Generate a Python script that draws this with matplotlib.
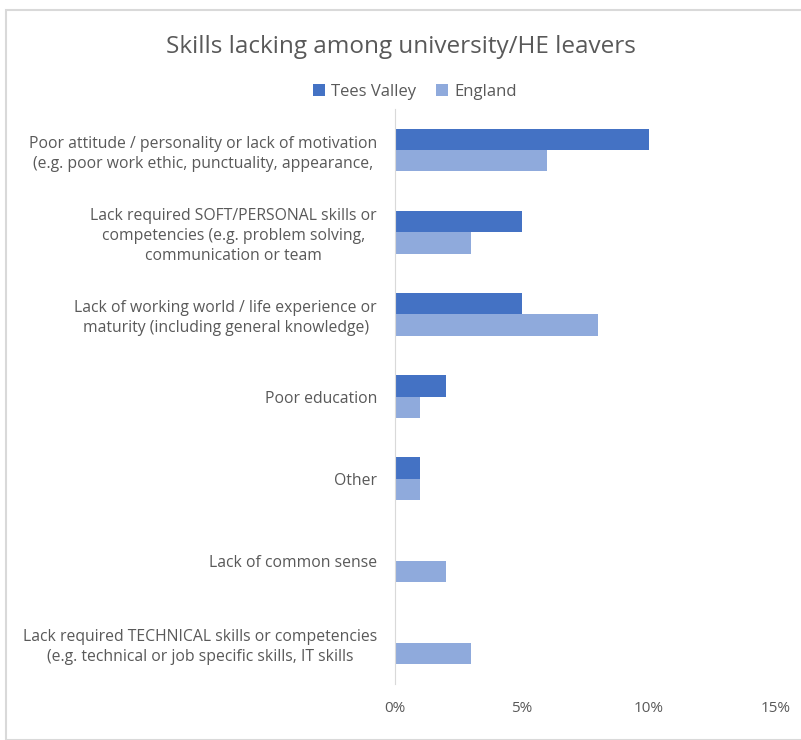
import matplotlib.pyplot as plt
import numpy as np
from matplotlib.patches import Rectangle

categories = [
    "Poor attitude / personality or lack of motivation\n(e.g. poor work ethic, punctuality, appearance,",
    "Lack required SOFT/PERSONAL skills or\ncompetencies (e.g. problem solving,\ncommunication or team",
    "Lack of working world / life experience or\nmaturity (including general knowledge)",
    "Poor education",
    "Other",
    "Lack of common sense",
    "Lack required TECHNICAL skills or competencies\n(e.g. technical or job specific skills, IT skills",
]
tees_valley = [10, 5, 5, 2, 1, 0, 0]
england = [6, 3, 8, 1, 1, 2, 3]
xticks = [0, 5, 10, 15]

plt.rcParams['font.family'] = ['Open Sans', 'DejaVu Sans']
grey = '#595959'

fig = plt.figure(figsize=(8.01, 7.40), dpi=100)
ax = fig.add_axes([395 / 801, 1 - 684 / 740, 381 / 801, 575 / 740])

y = np.arange(len(categories))
h = 0.26
ax.barh(y - h / 2, tees_valley, height=h, color='#4472C4', label='Tees Valley')
ax.barh(y + h / 2, england, height=h, color='#8FAADC', label='England')

ax.set_xlim(0, 15)
ax.set_ylim(len(categories) - 0.5, -0.5)
ax.set_xticks(xticks)
ax.set_xticklabels([f"{t}%" for t in xticks], color=grey, fontsize=11)
ax.set_yticks(y)
ax.set_yticklabels(categories, color=grey, fontsize=11.3, linespacing=1.3)
for lab in ax.get_yticklabels():
    lab.set_horizontalalignment('right')
    lab.set_multialignment('center')
ax.tick_params(axis='both', length=0)
ax.tick_params(axis='y', pad=13)
ax.tick_params(axis='x', pad=12)
for s in ['top', 'right', 'bottom']:
    ax.spines[s].set_visible(False)
ax.spines['left'].set_color('#D9D9D9')

fig.text(401 / 801, 1 - 47 / 740, "Skills lacking among university/HE leavers",
         ha='center', va='center', fontsize=17.5, color=grey)
fig.legend(loc='center', bbox_to_anchor=(415 / 801, 1 - 92 / 740), ncol=2,
           frameon=False, fontsize=12, handlelength=0.7, handleheight=0.7,
           columnspacing=1.2, handletextpad=0.4, labelcolor=grey)

fig.patches.append(Rectangle((6 / 801, 0), 1, 1 - 10 / 740, transform=fig.transFigure,
                             fill=False, edgecolor='#D9D9D9', linewidth=1.5))

fig.savefig('out.png', dpi=100)
